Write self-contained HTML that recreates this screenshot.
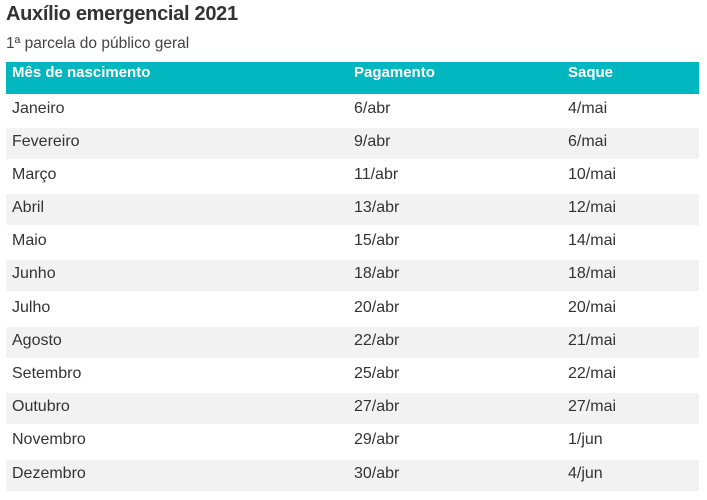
<!DOCTYPE html>
<html><head><meta charset="utf-8"><style>
body{margin:0;width:707px;height:500px;background:#fff;font-family:"Liberation Sans",sans-serif;color:#333;position:relative;overflow:hidden}
.t{position:absolute;left:6px;top:3px;font-size:20px;font-weight:bold;color:#333;letter-spacing:-0.3px}
.s{position:absolute;left:6px;top:35px;font-size:15.5px;color:#444}
.h{position:absolute;left:6px;top:62px;width:693px;height:32px;background:#00b7c0}
.h span{position:absolute;top:2px;font-size:15px;font-weight:bold;color:#fff}
.r{position:absolute;left:6px;width:693px;height:31px}
.r span{position:absolute;top:5px;font-size:16px;color:#333}
.g{background:#f2f2f2}
</style></head><body>
<div class="t">Auxílio emergencial 2021</div>
<div class="s">1ª parcela do público geral</div>
<div class="h"><span style="left:6px">Mês de nascimento</span><span style="left:348px">Pagamento</span><span style="left:562px">Saque</span></div>
<div class="r" style="top:95px"><span style="left:6px">Janeiro</span><span style="left:348px">6/abr</span><span style="left:562px">4/mai</span></div>
<div class="r g" style="top:128px"><span style="left:6px">Fevereiro</span><span style="left:348px">9/abr</span><span style="left:562px">6/mai</span></div>
<div class="r" style="top:161px"><span style="left:6px">Março</span><span style="left:348px">11/abr</span><span style="left:562px">10/mai</span></div>
<div class="r g" style="top:194px"><span style="left:6px">Abril</span><span style="left:348px">13/abr</span><span style="left:562px">12/mai</span></div>
<div class="r" style="top:227px"><span style="left:6px">Maio</span><span style="left:348px">15/abr</span><span style="left:562px">14/mai</span></div>
<div class="r g" style="top:260px"><span style="left:6px">Junho</span><span style="left:348px">18/abr</span><span style="left:562px">18/mai</span></div>
<div class="r" style="top:294px"><span style="left:6px">Julho</span><span style="left:348px">20/abr</span><span style="left:562px">20/mai</span></div>
<div class="r g" style="top:327px"><span style="left:6px">Agosto</span><span style="left:348px">22/abr</span><span style="left:562px">21/mai</span></div>
<div class="r" style="top:360px"><span style="left:6px">Setembro</span><span style="left:348px">25/abr</span><span style="left:562px">22/mai</span></div>
<div class="r g" style="top:393px"><span style="left:6px">Outubro</span><span style="left:348px">27/abr</span><span style="left:562px">27/mai</span></div>
<div class="r" style="top:426px"><span style="left:6px">Novembro</span><span style="left:348px">29/abr</span><span style="left:562px">1/jun</span></div>
<div class="r g" style="top:460px"><span style="left:6px">Dezembro</span><span style="left:348px">30/abr</span><span style="left:562px">4/jun</span></div>
</body></html>
